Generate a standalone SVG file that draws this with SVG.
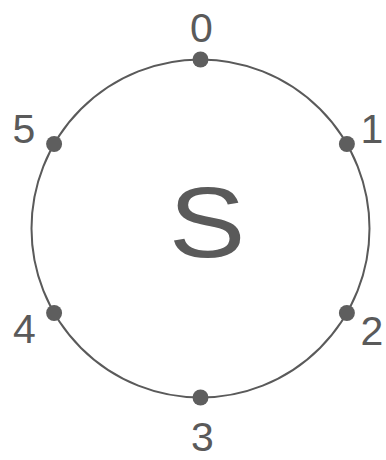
<svg xmlns="http://www.w3.org/2000/svg" width="386" height="460" viewBox="0 0 386 460">
<style>
.lbl{font-family:"Liberation Sans",Arial,sans-serif;font-size:41px;fill:#5a5a5a;text-anchor:middle}
.dot{fill:#5e5e5e}
.ring{fill:none;stroke:#5a5a5a;stroke-width:2}
</style>
<rect width="386" height="460" fill="#ffffff"/>
<g id="connectors">
<circle class="ring" cx="200.5" cy="228.5" r="169"/>
</g>
<g id="center"><text class="lbl" x="0" y="0" style="font-size:100px" transform="translate(207,257) scale(1.15,1)">S</text></g>
<g id="n0"><circle class="dot" cx="200.5" cy="59.5" r="8"/><text class="lbl" x="201.5" y="42">0</text></g>
<g id="n1"><circle class="dot" cx="346.9" cy="144" r="8"/><text class="lbl" x="372" y="143">1</text></g>
<g id="n2"><circle class="dot" cx="346.9" cy="313" r="8"/><text class="lbl" x="372" y="345">2</text></g>
<g id="n3"><circle class="dot" cx="200.5" cy="397.5" r="8"/><text class="lbl" x="202.5" y="451">3</text></g>
<g id="n4"><circle class="dot" cx="54.1" cy="313" r="8"/><text class="lbl" x="24.5" y="343">4</text></g>
<g id="n5"><circle class="dot" cx="54.1" cy="144" r="8"/><text class="lbl" x="24" y="143">5</text></g>
</svg>
